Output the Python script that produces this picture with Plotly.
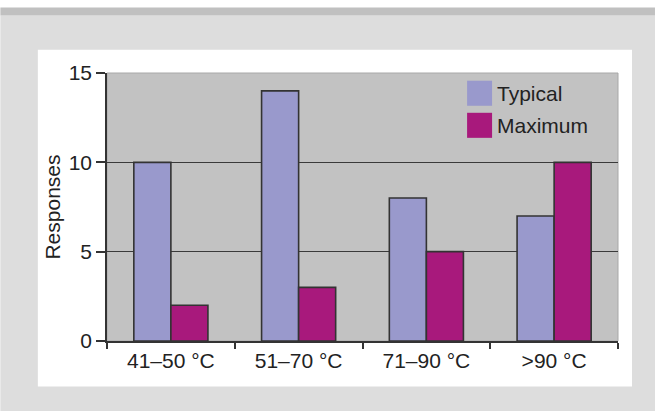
import plotly.graph_objects as go

categories = ["41–50 °C", "51–70 °C", "71–90 °C", ">90 °C"]
typical = [10, 14, 8, 7]
maximum = [2, 3, 5, 10]
series_names = ["Typical", "Maximum"]
y_ticks = [0, 5, 10, 15]

COL_TYP = "#9999cc"
COL_MAX = "#a8197c"
W, H = 655, 411
L, R, T, B = 106.7, 618.0, 73.3, 340.7  # plot area in pixels

def px(x):
    return (x - L) / (R - L)

def py(y):
    return (B - y) / (B - T)

fig = go.Figure()
fig.add_bar(x=categories, y=typical, name=series_names[0], marker_color=COL_TYP,
            marker_line_color="#333333", marker_line_width=1.6)
fig.add_bar(x=categories, y=maximum, name=series_names[1], marker_color=COL_MAX,
            marker_line_color="#333333", marker_line_width=1.6)

shapes = [
    dict(type="rect", xref="paper", yref="paper", x0=px(0), x1=px(W), y0=py(H), y1=py(16),
         fillcolor="#dddddd", line_width=0, layer="below"),
    dict(type="rect", xref="paper", yref="paper", x0=px(0), x1=px(W), y0=py(16), y1=py(8),
         fillcolor="#c0c0c0", line_width=0, layer="below"),
    dict(type="rect", xref="paper", yref="paper", x0=px(37.5), x1=px(632), y0=py(386), y1=py(50),
         fillcolor="#ffffff", line_width=0, layer="below"),
    dict(type="rect", xref="paper", yref="paper", x0=0, x1=1, y0=0, y1=1,
         fillcolor="#c2c2c2", line=dict(color="#a8a8a8", width=1), layer="below"),
]
# legend
legend_rows = [(series_names[0], COL_TYP, 81), (series_names[1], COL_MAX, 113)]
annotations = []
for name, col, top in legend_rows:
    shapes.append(dict(type="rect", xref="paper", yref="paper", x0=px(467), x1=px(492),
                       y0=py(top + 25), y1=py(top), fillcolor=col, line_width=0))
    annotations.append(dict(xref="paper", yref="paper", x=px(495), y=py(top + 12.5),
                            text=name, showarrow=False, xanchor="left", yanchor="middle",
                            font=dict(size=21, color="#222222")))

fig.update_layout(
    width=W, height=H,
    margin=dict(l=L, r=W - R, t=T, b=H - B, pad=0),
    paper_bgcolor="#ffffff",
    plot_bgcolor="rgba(0,0,0,0)",
    barmode="group", bargap=0.42, bargroupgap=0,
    showlegend=False,
    shapes=shapes, annotations=annotations,
    font=dict(family="Liberation Sans, Arial, sans-serif", size=21, color="#222222"),
    xaxis=dict(showline=True, linecolor="#333333", linewidth=1.5, ticks="outside",
               tickson="boundaries", ticklen=6, tickcolor="#333333", tickwidth=1.5,
               showgrid=False, tickfont=dict(size=21)),
    yaxis=dict(range=[0, 15], tickvals=y_ticks, showline=True, linecolor="#333333",
               linewidth=1.5, ticks="outside", ticklen=9, tickcolor="#333333", tickwidth=1.5,
               showgrid=True, gridcolor="#3a3a3a", gridwidth=1.4, zeroline=False,
               tickfont=dict(size=21),
               title=dict(text="Responses", font=dict(size=21), standoff=2)),
)

fig.write_html("out.html", config={"displayModeBar": False},
               post_script="document.body.style.margin='0';")
